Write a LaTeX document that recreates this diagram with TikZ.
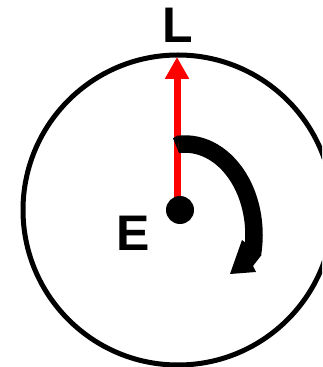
\documentclass[tikz,border=0pt]{standalone}
\usepackage{fontspec}
\setmainfont{Liberation Sans}
\usetikzlibrary{arrows.meta}
\begin{document}
\begin{tikzpicture}[x=1pt,y=1pt,
  lbl/.style={inner sep=0pt, font=\fontsize{50}{50}\selectfont\bfseries},
  ring/.style={circle, draw=black, line width=5pt, minimum size=310pt, inner sep=0pt},
  hub/.style={circle, fill=black, minimum size=28pt, inner sep=0pt},
  redarrow/.style={draw=red, line width=7pt, -{Triangle[width=23pt,length=22pt]}},
  turn/.style={draw=black, line width=17.5pt, line cap=butt}]
\useasboundingbox (0,0) rectangle (322,367);
\clip (0,0) rectangle (322,367);
\node[ring] (ring) at (178,157) {};
\coordinate (top) at (177,310);
\draw[redarrow] (top |- 0,157) -- (top);
\node[hub] (hub) at (180,157) {};
\coordinate (arcC) at (185,132);
\draw[turn] ([shift={(95.5:69 and 91)}]arcC) arc[start angle=95.5, end angle=-12, x radius=69, y radius=91];
\fill[black] (177.5,231.5) -- (173,228.7) -- (179.2,213.6) -- cycle;
\fill[black] (242,127) -- (230,93) -- (256,95) -- (253,101) -- (261.5,112) -- cycle;
\node[lbl] (L) at (177.5,342) {L};
\node[lbl] (E) at (133,133.5) {E};
\end{tikzpicture}
\end{document}
